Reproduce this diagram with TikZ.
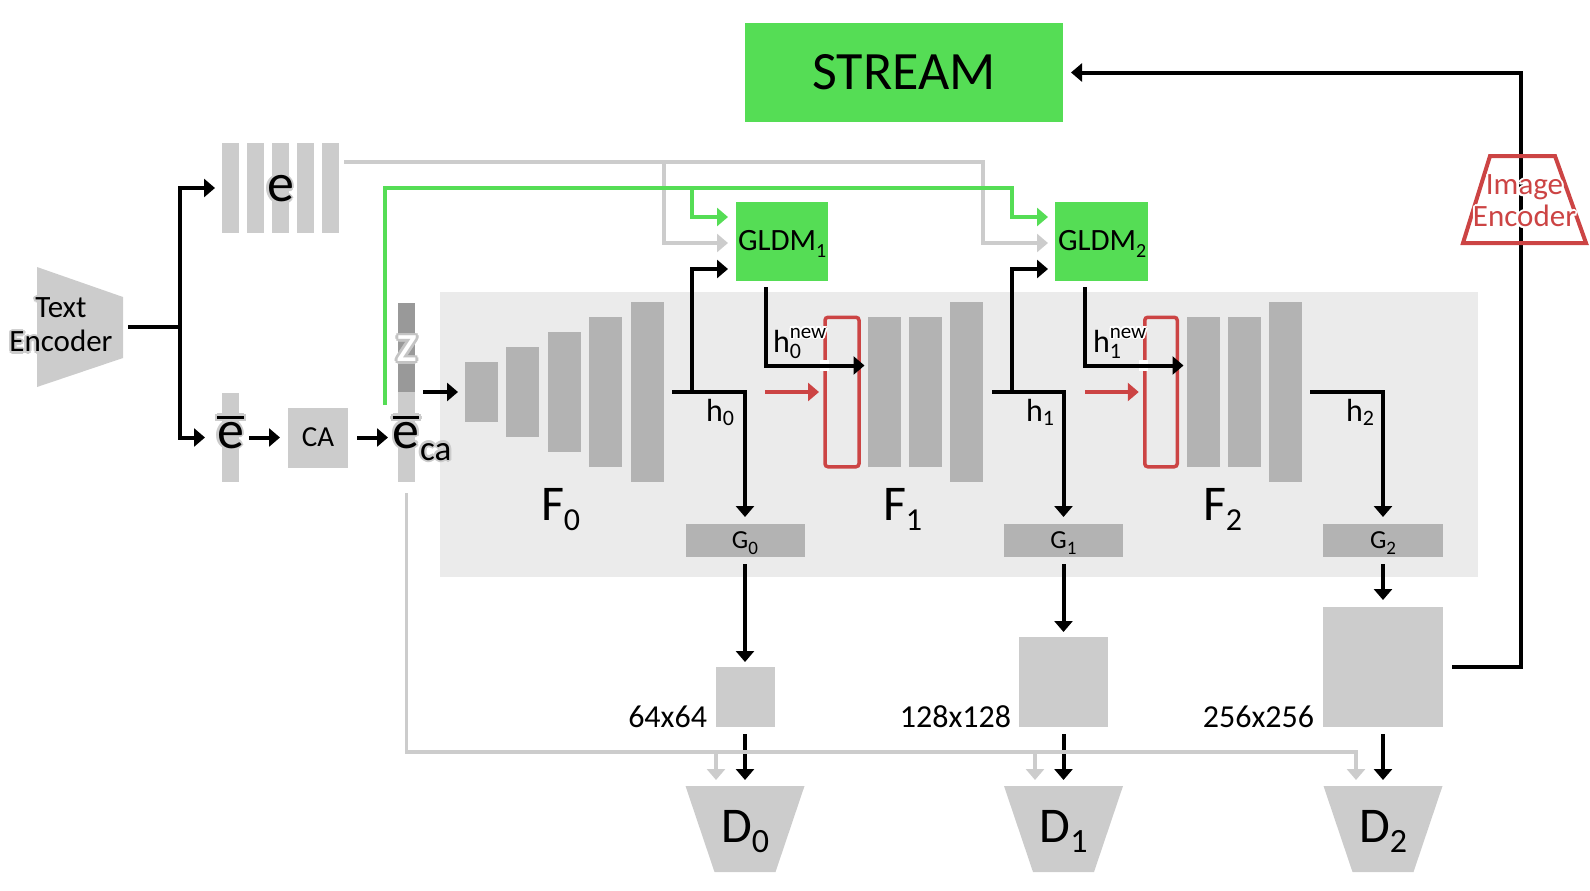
\documentclass[tikz,border=0pt]{standalone}
\usepackage{fontspec}
\setmainfont{Carlito}
\usetikzlibrary{arrows.meta}
\definecolor{lgray}{HTML}{CCCCCC}
\definecolor{mgray}{HTML}{B3B3B3}
\definecolor{dgray}{HTML}{999999}
\definecolor{panelc}{HTML}{EBEBEB}
\definecolor{ggreen}{HTML}{55DD55}
\definecolor{rred}{HTML}{CC4444}
\definecolor{zhalo}{HTML}{C4C4C4}
\newdimen\halor \newdimen\halod
\newcommand\halo[3][1.2pt]{\begingroup\halor=#1\relax\halod=0.7\halor
\setbox0=\hbox{#3}%
\rlap{\color{#2}\kern\halor\copy0}%
\rlap{\color{#2}\kern-\halor\copy0}%
\rlap{\color{#2}\raise\halor\copy0}%
\rlap{\color{#2}\lower\halor\copy0}%
\rlap{\color{#2}\kern\halod\raise\halod\copy0}%
\rlap{\color{#2}\kern\halod\lower\halod\copy0}%
\rlap{\color{#2}\kern-\halod\raise\halod\copy0}%
\rlap{\color{#2}\kern-\halod\lower\halod\copy0}%
\copy0\endgroup}
\newcommand\obar[1]{\vbox{\hrule height 1.6pt\kern1.5pt\hbox{#1}}}
\begin{document}
\begin{tikzpicture}[x=0.5pt,y=-0.5pt,
 every node/.style={inner sep=0pt,outer sep=0pt},
 arrtip/.style={-{Triangle[length=5.5pt,width=9pt]}},
 blk/.style={line width=2pt,draw=black},
 arr/.style={blk,arrtip},
 gline/.style={line width=1.75pt,draw=lgray},
 garr/.style={gline,arrtip},
 grn/.style={line width=2pt,draw=ggreen},
 grnarr/.style={grn,arrtip},
 rarr/.style={line width=1.75pt,draw=rred,arrtip},
 lbox/.style={fill=lgray},
 mbox/.style={fill=mgray},
 redbox/.style={draw=rred,line width=1.75pt,rounded corners=1.5pt},
 f27/.style={font=\fontsize{27}{27}\selectfont},
 flab/.style={anchor=base west,font=\fontsize{25}{25}\selectfont},
 hlab/.style={anchor=base west,font=\fontsize{16}{16}\selectfont},
 glab/.style={anchor=base,font=\fontsize{13}{13}\selectfont},
 szlab/.style={anchor=base east,font=\fontsize{16}{16}\selectfont},
 gllab/.style={anchor=base west,font=\fontsize{15.5}{15.5}\selectfont},
]
\useasboundingbox (0,0) rectangle (1590,890);

% background panel
\node[fill=panelc,minimum width=519pt,minimum height=142.5pt] (panel) at (959,434.5) {};

% STREAM
\node[fill=ggreen,minimum width=159pt,minimum height=49.5pt,font=\fontsize{27}{27}\selectfont] (stream) at (904,72.5) {STREAM};

% text encoder
\node[minimum width=43pt,minimum height=60pt] (te) at (80,327) {};
\fill[lgray] (te.north west) -- ([yshift=-15pt]te.north east) -- ([yshift=14.5pt]te.south east) -- (te.south west) -- cycle;
\node[align=center,font=\fontsize{15.5}{17}\selectfont] (telab) at (61,325) {\halo{lgray}{Text}\\\halo{lgray}{Encoder}};

% e bars
\foreach \i/\x in {1/230.5,2/255.5,3/280.5,4/305.5,5/330.5}
  \node[lbox,minimum width=8.5pt,minimum height=45pt] (e\i) at (\x,188) {};
\node[f27] (elab) at (280.5,189) {\halo{lgray}{e}};

% e-bar, CA, e_ca
\node[lbox,minimum width=8.5pt,minimum height=44.5pt] (ebar) at (230.5,437.5) {};
\node[f27,anchor=base] (ebarlab) at (230.5,448) {\halo{lgray}{\obar{e}}};
\node[lbox,minimum width=30pt,minimum height=30pt,font=\fontsize{14.5}{14.5}\selectfont] (ca) at (318,437.5) {CA};
\node[fill=dgray,minimum width=8.5pt,minimum height=44.5pt] (ztop) at (406.5,347.5) {};
\node[lbox,minimum width=8.5pt,minimum height=45pt] (ecabar) at (406.5,437) {};
\node[f27,text=white] (zlab) at (407,349) {\halo[1.4pt]{zhalo}{z}};
\node[f27,anchor=base] (ecalab) at (406,448) {\halo{lgray}{\obar{e}}};
\node[anchor=base west,font=\fontsize{17.5}{17.5}\selectfont] (calab) at (420,460) {\halo{lgray}{ca}};

% F0 bars
\foreach \i/\x/\h in {1/481.5/30,2/522.5/45,3/564.5/60,4/605.5/75,5/647.5/90}
  \node[mbox,minimum width=16.5pt,minimum height=\h pt] (f0b\i) at (\x,392) {};
% F1 bars
\foreach \i/\x/\h in {1/884/75,2/925/75,3/966.5/90}
  \node[mbox,minimum width=16.5pt,minimum height=\h pt] (f1b\i) at (\x,392) {};
% F2 bars
\foreach \i/\x/\h in {1/1203/75,2/1244.5/75,3/1285.5/90}
  \node[mbox,minimum width=16.5pt,minimum height=\h pt] (f2b\i) at (\x,392) {};

\node[flab] (f0lab) at (541,520) {F\raisebox{-5pt}{\fontsize{16}{16}\selectfont 0}};
\node[flab] (f1lab) at (883,520) {F\raisebox{-5pt}{\fontsize{16}{16}\selectfont 1}};
\node[flab] (f2lab) at (1203,520) {F\raisebox{-5pt}{\fontsize{16}{16}\selectfont 2}};

% red boxes
\node[redbox,minimum width=17pt,minimum height=74.75pt] (r1) at (842,392) {};
\node[redbox,minimum width=16.25pt,minimum height=74.75pt] (r2) at (1161,392) {};

% G boxes
\node[mbox,minimum width=59.5pt,minimum height=16.5pt] (g0) at (745,540.5) {};
\node[mbox,minimum width=59.5pt,minimum height=16.5pt] (g1) at (1063.5,540.5) {};
\node[mbox,minimum width=60pt,minimum height=16.5pt] (g2) at (1383,540.5) {};
\node[glab] (g0lab) at (745,548) {G\raisebox{-3pt}{\fontsize{9.5}{9.5}\selectfont 0}};
\node[glab] (g1lab) at (1063.5,548) {G\raisebox{-3pt}{\fontsize{9.5}{9.5}\selectfont 1}};
\node[glab] (g2lab) at (1383,548) {G\raisebox{-3pt}{\fontsize{9.5}{9.5}\selectfont 2}};

% output images
\node[lbox,minimum width=29.5pt,minimum height=30pt] (b64) at (745,697) {};
\node[lbox,minimum width=44.5pt,minimum height=45pt] (b128) at (1063.5,682) {};
\node[lbox,minimum width=60pt,minimum height=60pt] (b256) at (1383,667) {};
\node[szlab] (l64) at (707,727) {64x64};
\node[szlab] (l128) at (1011,727) {128x128};
\node[szlab] (l256) at (1314,727) {256x256};

% discriminators
\foreach \n/\x in {0/745,1/1063.5,2/1383} {
  \node[minimum width=59.5pt,minimum height=43pt] (d\n) at (\x,829) {};
  \fill[lgray] (d\n.north west) -- (d\n.north east) -- ([xshift=-14.5pt]d\n.south east) -- ([xshift=14.5pt]d\n.south west) -- cycle;
  \node[anchor=base,font=\fontsize{25}{25}\selectfont] (dlab\n) at (\x,842) {D\raisebox{-5pt}{\fontsize{17}{17}\selectfont \n}};
}

% GLDM boxes
\node[fill=ggreen,minimum width=46pt,minimum height=39.5pt] (gldm1) at (782,241.5) {};
\node[fill=ggreen,minimum width=46.5pt,minimum height=39.5pt] (gldm2) at (1101.5,241.5) {};
\node[gllab] (gl1lab) at (738,250) {\halo[1pt]{ggreen}{GLDM\raisebox{-3.5pt}{\fontsize{10}{10}\selectfont 1}}};
\node[gllab] (gl2lab) at (1058,250) {\halo[1pt]{ggreen}{GLDM\raisebox{-3.5pt}{\fontsize{10}{10}\selectfont 2}}};

% image encoder frame
\node[minimum width=61.5pt,minimum height=43.5pt] (ie) at (1524.5,199.5) {};

% ---------- connectors ----------
\coordinate (split) at (180,327);
\draw[blk] ([xshift=2.5pt]te.east) -- (split);
\draw[arr] (split) |- ([xshift=-3.5pt]e1.west);
\draw[arr] (split) |- ([xshift=-8.5pt]ebar.west);
\draw[arr] ([xshift=5pt]ebar.east) -- ([xshift=-4pt]ca.west);
\draw[arr] ([xshift=4.5pt]ca.east) -- ([xshift=-5pt]ecabar.west |- ca.east);
\draw[arr] ([xshift=4pt]ztop.south east) -- ([xshift=-3.5pt]f0b1.west);

% gray text-embedding lines
\coordinate (gt0) at (344,162);
\coordinate (gtb) at (664,162);
\coordinate (gtc) at (983,162);
\draw[garr] (gt0) -- (gtc) |- ([xshift=-3.5pt,yshift=-0.75pt]gldm2.west);
\draw[garr] (gtb) |- ([xshift=-4pt,yshift=-0.75pt]gldm1.west);

% green lines
\coordinate (gstart) at (385,405);
\coordinate (grb) at (692,188);
\coordinate (grc) at (1012,188);
\draw[grnarr] (gstart) |- (grc) |- ([xshift=-3.5pt,yshift=12.25pt]gldm2.west);
\draw[grnarr] (grb) |- ([xshift=-4pt,yshift=12.25pt]gldm1.west);

% stage 0
\coordinate (h0c) at (745,392);
\coordinate (br0) at (692,392);
\draw[arr] ([xshift=4pt]f0b5.east) -- (h0c) -- ([yshift=3.5pt]g0.north);
\draw[arr] (br0) |- ([xshift=-4pt,yshift=-13.75pt]gldm1.west);
\coordinate (g1out) at (766,287);
\draw[white,line width=5.5pt] (820,365.5) -- (829,365.5);
\draw[arr] (g1out) |- ([xshift=-1.5pt,yshift=13.25pt]f1b1.west);
\coordinate (ra0) at (765,392);
\draw[rarr] (ra0) -- ([xshift=-3pt]r1.west);

% stage 1
\coordinate (h1c) at (1063.5,392);
\coordinate (br1) at (1012,392);
\draw[arr] ([xshift=4.5pt]f1b3.east) -- (h1c) -- ([yshift=3.5pt]g1.north);
\draw[arr] (br1) |- ([xshift=-3.5pt,yshift=-13.75pt]gldm2.west);
\coordinate (g2out) at (1085,287);
\draw[white,line width=5.5pt] (1139,365.5) -- (1148,365.5);
\draw[arr] (g2out) |- ([xshift=-1.5pt,yshift=13.25pt]f2b1.west);
\coordinate (ra1) at (1085,392);
\draw[rarr] (ra1) -- ([xshift=-3pt]r2.west);

% stage 2
\coordinate (h2c) at (1383,392);
\draw[arr] ([xshift=4pt]f2b3.east) -- (h2c) -- ([yshift=3.5pt]g2.north);

% G -> images -> D
\draw[arr] ([yshift=-3.5pt]g0.south) -- ([yshift=2.5pt]b64.north);
\draw[arr] ([yshift=-3.5pt]g1.south) -- ([yshift=2.5pt]b128.north);
\draw[arr] ([yshift=-3.5pt]g2.south) -- ([yshift=3.5pt]b256.north);
\draw[arr] ([yshift=-3.5pt]b64.south) -- ([yshift=3pt]d0.north);
\draw[arr] ([yshift=-3.5pt]b128.south) -- ([yshift=3pt]d1.north);
\draw[arr] ([yshift=-3.5pt]b256.south) -- ([yshift=3pt]d2.north);

% gray conditioning to discriminators
\coordinate (gb) at (1356,752);
\coordinate (gb0) at (716,752);
\coordinate (gb1) at (1035,752);
\draw[garr] ([yshift=-5.5pt]ecabar.south) |- (gb) -- ([xshift=-13.5pt,yshift=3pt]d2.north);
\draw[garr] (gb0) -- ([xshift=-14.5pt,yshift=3pt]d0.north);
\draw[garr] (gb1) -- ([xshift=-14.25pt,yshift=3pt]d1.north);

% feedback to STREAM
\coordinate (fbk) at (1521,72.5);
\draw[arr] ([xshift=4.5pt]b256.east) -| (fbk) -- ([xshift=4pt]stream.east);

% image encoder
\draw[rred,line width=2pt] ([xshift=13.5pt]ie.north west) -- ([xshift=-15.5pt]ie.north east) -- (ie.south east) -- (ie.south west) -- cycle;
\node[align=center,text=rred,font=\fontsize{15.5}{16}\selectfont] (ielab) at (1524.5,201) {\halo[1pt]{white}{Image}\\\halo[1pt]{white}{Encoder}};

% h labels
\node[hlab] (h0lab) at (706,421) {h\raisebox{-2pt}{\fontsize{11}{11}\selectfont 0}};
\node[hlab] (h1lab) at (1026,421) {h\raisebox{-2pt}{\fontsize{11}{11}\selectfont 1}};
\node[hlab] (h2lab) at (1346,421) {h\raisebox{-2pt}{\fontsize{11}{11}\selectfont 2}};
\node[hlab] (hn0) at (773,352) {h\rlap{\raisebox{7pt}{\fontsize{10.5}{10.5}\selectfont\halo[0.9pt]{white}{new}}}\raisebox{-3pt}{\fontsize{11}{11}\selectfont 0}};
\node[hlab] (hn1) at (1093,352) {h\rlap{\raisebox{7pt}{\fontsize{10.5}{10.5}\selectfont\halo[0.9pt]{white}{new}}}\raisebox{-3pt}{\fontsize{11}{11}\selectfont 1}};
\end{tikzpicture}
\end{document}
